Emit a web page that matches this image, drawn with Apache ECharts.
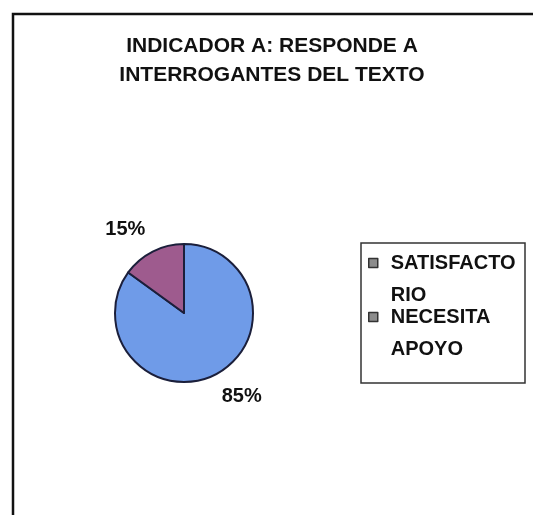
<!DOCTYPE html>
<html>
<head>
<meta charset="utf-8">
<script src="https://cdn.jsdelivr.net/npm/echarts@6/dist/echarts.min.js"></script>
<style>
html,body{margin:0;padding:0;background:#fff;}
#chart{width:533px;height:515px;}
</style>
</head>
<body>
<div id="chart"></div>
<script>
const titleText = 'INDICADOR A: RESPONDE A\nINTERROGANTES DEL TEXTO';
const categories = ['SATISFACTORIO', 'NECESITA APOYO'];
const legendLabels = ['SATISFACTO\nRIO', 'NECESITA\nAPOYO'];
const values = [85, 15];
const colors = ['#6f9be8', '#9e5b8e'];

const FONT = '"Liberation Sans", Arial, sans-serif';
const chart = echarts.init(document.getElementById('chart'), null, {renderer: 'canvas'});

chart.setOption({
  backgroundColor: '#ffffff',
  animation: false,
  title: {
    text: titleText,
    left: 272,
    top: 32,
    padding: 0,
    textAlign: 'center',
    textStyle: {
      fontFamily: FONT, fontSize: 21, fontWeight: 'bold', color: '#111',
      lineHeight: 29
    }
  },
  legend: {
    orient: 'vertical',
    left: 368,
    top: 215,
    padding: 0,
    itemGap: -42,
    itemWidth: 9,
    itemHeight: 9,
    icon: 'rect',
    data: categories,
    // leading blank line keeps the first text line level with the marker
    formatter: function (name) { return '\n' + legendLabels[categories.indexOf(name)]; },
    itemStyle: {color: '#8c8c8c', borderColor: '#333', borderWidth: 1.5},
    textStyle: {
      fontFamily: FONT, fontSize: 20, fontWeight: 'bold', color: '#111',
      lineHeight: 32, padding: [0, 0, 0, 8]
    }
  },
  graphic: [
    {type: 'polyline', shape: {points: [[13, 515], [13, 14], [533, 14]]},
     style: {stroke: '#111', lineWidth: 2.5, fill: null}, silent: true},
    {type: 'rect', shape: {x: 361, y: 243, width: 164, height: 140},
     style: {stroke: '#333', lineWidth: 1.5, fill: null}, silent: true}
  ],
  series: [{
    type: 'pie',
    center: [184, 313],
    radius: 69,
    startAngle: 90,
    clockwise: true,
    avoidLabelOverlap: false,
    data: categories.map((c, i) => ({name: c, value: values[i], itemStyle: {color: colors[i]}})),
    itemStyle: {borderColor: '#1b1f3b', borderWidth: 2},
    label: {
      show: true, position: 'outside', formatter: '{d}%',
      fontFamily: FONT, fontSize: 20, fontWeight: 'bold', color: '#111',
      distanceToLabelLine: 0
    },
    labelLine: {show: false, length: 25, length2: 0},
    labelLayout: function (p) { return {dx: p.dataIndex === 0 ? -5 : 4}; },
    emphasis: {disabled: true}
  }]
});
</script>
</body>
</html>
